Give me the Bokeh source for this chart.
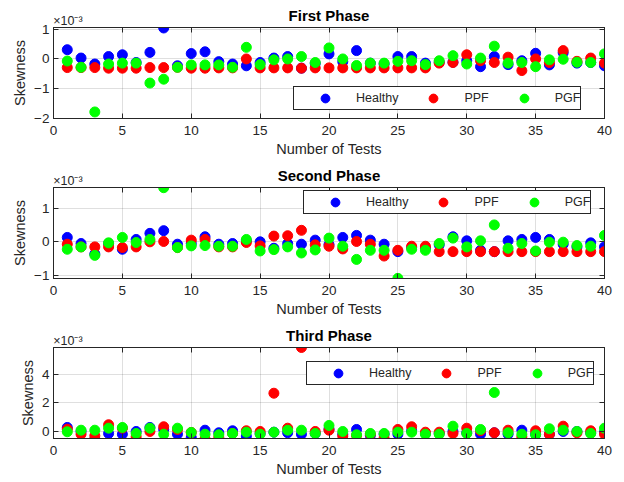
from bokeh.plotting import figure
from bokeh.layouts import column
from bokeh.models import (Range1d, FixedTicker, LinearAxis, Legend, LegendItem)
from bokeh.embed import file_html
from bokeh.resources import INLINE

# Data (skewness values in units of 1e-3)
tests = list(range(1, 41))

healthy_1 = [0.31, 0.03, -0.17, 0.08, 0.14, -0.12, 0.22, 1.04, -0.23, 0.18,
             0.24, -0.09, -0.17, -0.23, -0.12, 0.03, 0.08, -0.31, -0.15, 0.17,
             -0.09, 0.28, -0.14, -0.17, 0.08, 0.08, -0.14, -0.11, -0.11, -0.06,
             -0.26, 0.08, -0.19, -0.06, 0.19, -0.20, 0.21, -0.14, -0.12, -0.23]
ppf_1 = [-0.29, -0.29, -0.29, -0.31, -0.31, -0.31, -0.29, -0.29, -0.28, -0.31,
         -0.31, -0.30, -0.30, 0.00, -0.30, -0.30, -0.30, -0.31, -0.30, -0.30,
         -0.30, -0.30, -0.30, -0.30, -0.30, -0.30, -0.30, -0.14, -0.12, 0.14,
         -0.06, -0.12, 0.06, -0.39, 0.00, -0.12, 0.28, -0.08, 0.03, -0.14]
pgf_1 = [-0.07, -0.28, -1.78, -0.17, -0.14, -0.14, -0.81, -0.68, -0.28, -0.20,
         -0.20, -0.20, -0.28, 0.39, -0.19, -0.03, 0.00, 0.08, -0.12, 0.37,
         0.00, -0.22, -0.14, -0.14, -0.08, -0.06, -0.19, -0.06, 0.11, -0.17,
         0.03, 0.43, -0.14, -0.12, -0.26, -0.03, -0.01, -0.11, -0.12, 0.17]

healthy_2 = [0.13, -0.05, -0.36, -0.05, -0.22, 0.07, 0.25, 0.33, -0.07, -0.05,
             0.15, -0.07, -0.05, 0.03, 0.00, -0.19, -0.05, -0.07, 0.05, -0.08,
             0.13, 0.19, 0.05, -0.07, -0.29, -0.17, -0.19, -0.09, 0.15, 0.03,
             -0.25, -0.29, 0.03, 0.07, 0.13, 0.07, -0.07, -0.15, -0.03, -0.15]
ppf_2 = [-0.07, -0.15, -0.15, -0.15, -0.17, -0.15, 0.00, 0.01, -0.17, 0.05,
         0.07, -0.15, -0.15, -0.02, -0.12, 0.17, 0.18, 0.34, -0.09, -0.13,
         -0.21, 0.01, -0.07, -0.42, -0.25, -0.13, -0.13, -0.29, -0.29, -0.29,
         -0.29, -0.29, -0.29, -0.29, -0.29, -0.29, -0.29, -0.29, -0.29, -0.29]
pgf_2 = [-0.22, -0.15, -0.40, -0.03, 0.13, -0.02, 0.07, 1.60, -0.17, -0.12,
         -0.11, -0.13, -0.13, 0.07, -0.27, -0.23, -0.15, -0.33, -0.24, 0.11,
         -0.13, -0.52, -0.25, -0.25, -1.08, -0.22, -0.25, -0.05, 0.11, -0.15,
         0.03, 0.50, -0.19, -0.05, -0.27, -0.01, -0.01, -0.11, -0.13, 0.19]

healthy_3 = [0.28, 0.00, -0.53, -0.14, -0.19, 0.00, 0.28, 0.14, -0.19, -0.42,
             0.09, -0.09, 0.05, -0.33, -0.14, -0.05, -0.09, -0.19, -0.14, 0.16,
             -0.19, 0.14, -0.28, -0.19, -0.19, 0.05, -0.14, -0.14, 0.00, -0.09,
             -0.19, -0.09, -0.19, 0.09, -0.19, -0.19, 0.00, 0.00, -0.09, -0.05]
ppf_3 = [0.16, -0.19, -0.30, 0.47, 0.23, -0.37, 0.00, 0.33, 0.14, -0.07,
         -0.53, -0.42, -0.14, 0.05, 0.00, 2.67, 0.23, 5.86, 0.00, 0.09,
         -0.33, -0.28, -0.19, -0.47, 0.14, 0.33, -0.05, -0.05, -0.14, 0.23,
         0.05, -0.09, 0.09, -0.37, 0.05, -0.19, 0.37, -0.09, 0.05, -0.19]
pgf_3 = [-0.02, 0.09, 0.09, 0.23, 0.28, -0.14, 0.23, -0.19, 0.23, -0.07,
         -0.19, -0.23, -0.14, -0.05, -0.19, -0.05, 0.09, 0.09, -0.14, 0.42,
         0.00, -0.23, -0.14, -0.14, -0.05, -0.05, -0.19, -0.19, 0.37, -0.14,
         0.14, 2.72, -0.09, -0.19, -0.23, 0.19, 0.09, 0.00, -0.14, 0.23]

titles = ["First Phase", "Second Phase", "Third Phase"]
exponent_text = "\u00d710\u207b\u00b3"
exponent_x = 1.05
series_names = ["Healthy", "PPF", "PGF"]
series_colors = ["#0000ff", "#ff0000", "#00ff00"]
x_ticks = [0, 5, 10, 15, 20, 25, 30, 35, 40]
y_ticks = [[-2, -1, 0, 1], [-1, 0, 1], [0, 2, 4]]
y_limits = [(-2.0, 1.056), (-1.084, 1.606), (-0.49, 5.86)]
panel_data = [(healthy_1, ppf_1, pgf_1), (healthy_2, ppf_2, pgf_2), (healthy_3, ppf_3, pgf_3)]
legend_loc = [(240, 8), (250, 64), (253, 53)]

FONT = "Liberation Sans"
AX = "#262626"
W = 620
H = 160
TOP = 27
FRAME_H = 91


def style_axis(ax, label_size="13.5px"):
    ax.major_tick_in = 5
    ax.major_tick_out = 0
    ax.minor_tick_line_color = None
    ax.axis_line_color = AX
    ax.major_tick_line_color = AX
    ax.major_label_text_color = AX
    ax.major_label_text_font = FONT
    ax.major_label_text_font_size = label_size
    ax.axis_label_text_font = FONT
    ax.axis_label_text_font_size = "14.5px"
    ax.axis_label_text_font_style = "normal"
    ax.axis_label_text_color = AX


figs = []
for i in range(3):
    ylo, yhi = y_limits[i]
    p = figure(width=W, height=H, x_range=Range1d(0, 40),
               y_range=Range1d(ylo, yhi), output_backend="svg",
               toolbar_location=None, title=None,
               min_border_left=53, min_border_right=W - 604, min_border_top=TOP,
               min_border_bottom=H - TOP - FRAME_H)
    p.outline_line_color = AX
    p.outline_line_alpha = 1
    p.background_fill_color = "white"
    p.border_fill_color = "white"

    xt = FixedTicker(ticks=x_ticks)
    yt = FixedTicker(ticks=y_ticks[i])
    p.xaxis.ticker = xt
    p.yaxis.ticker = yt
    p.xgrid.ticker = xt
    p.ygrid.ticker = yt
    for g in (p.xgrid, p.ygrid):
        g.grid_line_color = AX
        g.grid_line_alpha = 0.15

    style_axis(p.xaxis[0])
    style_axis(p.yaxis[0])
    p.xaxis.axis_label = "Number of Tests"
    p.yaxis.axis_label = "Skewness"
    p.yaxis.major_label_standoff = 4
    p.yaxis.axis_label_standoff = 3
    p.xaxis.major_label_standoff = 7
    p.xaxis.axis_label_standoff = 3

    # inward ticks on the top and right edges of the box
    top_ticks = LinearAxis(ticker=xt)
    right_ticks = LinearAxis(ticker=yt)
    for ax in (top_ticks, right_ticks):
        style_axis(ax, label_size="0px")
        ax.major_label_standoff = 0
    p.add_layout(top_ticks, "above")
    p.add_layout(right_ticks, "right")

    # title row: exponent "x10^-3" at the top-left and the bold panel title centred
    head = LinearAxis(ticker=FixedTicker(ticks=[exponent_x]),
                      major_label_overrides={exponent_x: exponent_text})
    head.axis_line_color = None
    head.major_tick_line_color = None
    head.minor_tick_line_color = None
    head.major_tick_in = 0
    head.major_tick_out = 0
    head.major_label_standoff = 0
    head.major_label_text_font = FONT
    head.major_label_text_font_size = "12.5px"
    head.major_label_text_color = AX
    head.axis_label = titles[i]
    head.axis_label_text_font = FONT
    head.axis_label_text_font_size = "15px"
    head.axis_label_text_font_style = "bold"
    head.axis_label_text_color = "black"
    head.axis_label_standoff = -13
    p.add_layout(head, "above")

    renderers = []
    for vals, color in zip(panel_data[i], series_colors):
        r = p.scatter(tests, vals, size=10, fill_color=color, line_color=color)
        renderers.append(r)

    legend = Legend(items=[LegendItem(label=n, renderers=[r]) for n, r in zip(series_names, renderers)],
                    orientation="horizontal", location=legend_loc[i], padding=0,
                    glyph_height=22, glyph_width=62, label_standoff=0, spacing=4,
                    margin=0, border_line_color=AX, border_line_alpha=1,
                    background_fill_color="white", background_fill_alpha=1,
                    label_text_font=FONT, label_text_font_size="12.5px",
                    label_text_color=AX)
    p.add_layout(legend, "center")
    figs.append(p)

layout = column(*figs, spacing=0)
open("out.html", "w").write(file_html(layout, INLINE))
